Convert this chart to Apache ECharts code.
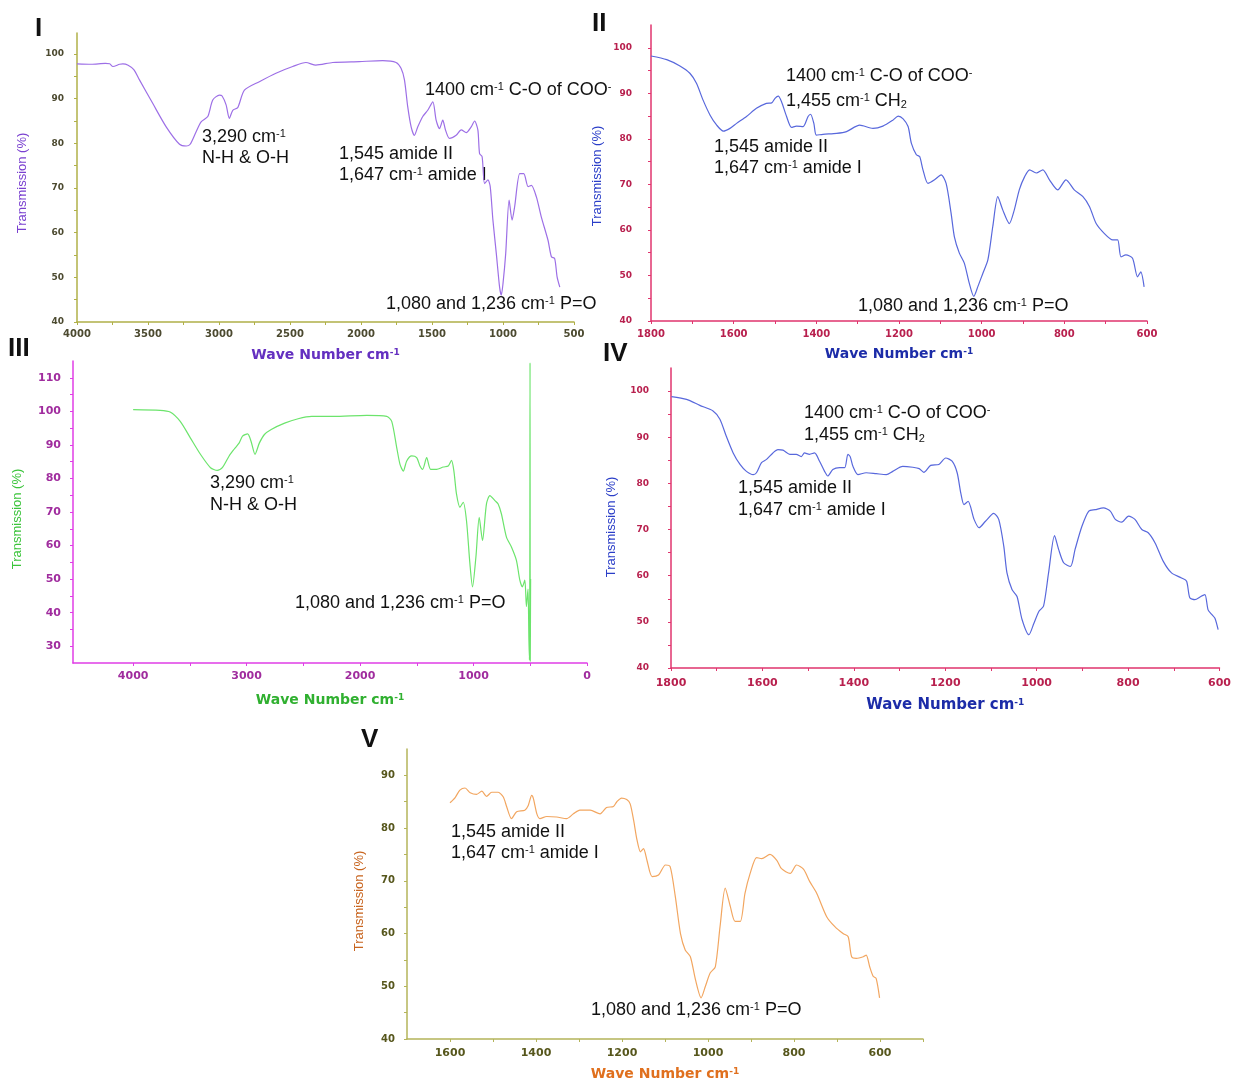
<!DOCTYPE html>
<html>
<head>
<meta charset="utf-8">
<title>FTIR spectra I-V</title>
<script src="https://cdn.jsdelivr.net/npm/echarts@6/dist/echarts.min.js"></script>
<style>
html, body { margin: 0; padding: 0; background: #fff; }
#chart { width: 1234px; height: 1083px; }
</style>
</head>
<body>
<div id="chart"></div>
<script>
// spectra: [wave number cm-1, transmission %]
var spectrumI = [
    [4000, 97.8], [3900, 97.7], [3800, 97.9], [3770, 97.8], [3747, 97.2], [3700, 97.7], [3677, 97.8],
    [3640, 97.5], [3600, 96.5], [3560, 94.2], [3466, 88.9], [3372, 83.7], [3278, 79.8], [3231, 79.4],
    [3203, 79.8], [3161, 82.6], [3126, 84.8], [3079, 86], [3044, 89.7], [2997, 90.8], [2978, 90.6],
    [2950, 88.6], [2927, 85.6], [2903, 87.4], [2868, 88], [2821, 91.9], [2716, 93.8], [2599, 95.7],
    [2481, 97.2], [2388, 98.1], [2318, 97.5], [2200, 98.1], [2012, 98.3], [1847, 98.5], [1753, 98.1],
    [1718, 96.8], [1694, 94.2], [1671, 88.2], [1647, 83.7], [1624, 81.8], [1600, 83.7], [1565, 86],
    [1530, 87.4], [1494, 89.3], [1471, 85.2], [1447, 83.3], [1424, 85.2], [1405, 83], [1377, 81.1],
    [1330, 81.8], [1294, 83], [1259, 82.4], [1224, 83.7], [1200, 85], [1177, 83], [1165, 77.7],
    [1147, 77], [1130, 71], [1106, 71.8], [1090, 70.3], [1071, 62.8], [1047, 55.3], [1024, 47.8],
    [1012, 46], [1000, 48.6], [981, 55.3], [957, 67.3], [936, 62.8], [918, 65.8], [882, 73.2],
    [854, 73.2], [823, 70.3], [800, 70.6], [765, 68], [730, 63.5], [683, 58.3], [659, 54.6],
    [636, 54.2], [619, 50.1], [600, 47.8]
];
var spectrumII = [
    [1800, 98.2], [1762, 97.4], [1730, 96], [1706, 94.4], [1690, 92.2], [1674, 88.5], [1657, 85.2],
    [1641, 83], [1625, 81.7], [1609, 82.3], [1593, 83.4], [1569, 84.9], [1545, 86.7], [1521, 87.8],
    [1508, 87.9], [1500, 88.9], [1492, 89.4], [1484, 88.1], [1472, 84.9], [1460, 82.5], [1448, 82.8],
    [1432, 82.7], [1420, 84.9], [1414, 85.4], [1406, 83.4], [1400, 80.8], [1384, 81], [1351, 81.2],
    [1327, 81.6], [1295, 83], [1263, 82.3], [1239, 82.8], [1215, 84.1], [1202, 85], [1190, 84.4],
    [1178, 82.7], [1170, 79], [1158, 76.5], [1150, 76.1], [1142, 73.2], [1130, 70.2], [1114, 71],
    [1098, 72.1], [1086, 70.2], [1074, 63.7], [1066, 58.5], [1054, 54.9], [1042, 52.7], [1030, 48.3],
    [1019, 45.4], [1009, 47.6], [997, 50.5], [985, 53.4], [973, 60.8], [961, 67.3], [949, 64.4],
    [933, 61.4], [921, 64.4], [909, 68.8], [896, 71.7], [884, 73.2], [868, 72.5], [852, 73.2],
    [836, 71], [816, 68.8], [796, 71], [776, 68.8], [755, 67.3], [739, 65.1], [723, 61.4],
    [703, 59.2], [683, 57.8], [671, 57.8], [663, 54.1], [651, 54.5], [635, 53.8], [623, 49.7],
    [615, 50.8], [607, 47.5]
];
var spectrumIII = [
    [4000, 100.5], [3763, 100.3], [3674, 99.8], [3585, 97], [3496, 92.1], [3407, 87.2], [3318, 83.2],
    [3258, 82.4], [3214, 83.2], [3154, 86.7], [3110, 88.7], [3065, 90.6], [3036, 92.6], [2991, 93.3],
    [2961, 91.1], [2926, 87.2], [2887, 90.6], [2843, 93.1], [2783, 94.6], [2665, 96.5], [2546, 97.8],
    [2427, 98.5], [2235, 98.5], [1941, 98.8], [1765, 98.5], [1721, 97], [1677, 89.2], [1648, 84.2],
    [1619, 82.2], [1589, 85.2], [1545, 86.7], [1501, 86.2], [1472, 83.7], [1449, 82.7], [1413, 86.2],
    [1378, 82.7], [1326, 82.7], [1267, 83.4], [1223, 83.7], [1194, 85.4], [1173, 82.2], [1150, 75.3],
    [1120, 71.4], [1091, 72.9], [1062, 67.4], [1032, 54.6], [1009, 47.7], [979, 56.6], [950, 68.4],
    [921, 61.5], [886, 72.4], [856, 74.9], [812, 73.4], [783, 72.4], [754, 69.4], [710, 62.5],
    [666, 59.6], [622, 55.6], [592, 49.7], [569, 47.7], [548, 49.7], [534, 41.8], [520, 47],
    [512, 32], [507, 26], [504, 52], [502, 114.5], [500, 25.5], [497, 50]
];
var spectrumIV = [
    [1799, 98.8], [1766, 98.2], [1737, 96.9], [1708, 95.7], [1693, 93.9], [1679, 90.2], [1664, 86.6],
    [1649, 84.1], [1635, 82.6], [1620, 81.9], [1613, 82.3], [1602, 84.5], [1591, 85.2], [1577, 86.6],
    [1566, 87.3], [1555, 87.2], [1540, 86.3], [1526, 86.3], [1515, 85.8], [1508, 86.6], [1497, 86.3],
    [1486, 86.6], [1475, 84.8], [1464, 82.6], [1457, 81.6], [1446, 83], [1431, 83.4], [1420, 83.4],
    [1413, 86.3], [1408, 85.8], [1402, 83.7], [1391, 81.9], [1373, 82.3], [1351, 82.1], [1329, 81.9],
    [1315, 82.6], [1293, 83.7], [1271, 83.5], [1257, 83.2], [1247, 82.4], [1232, 83.9], [1214, 84.1],
    [1199, 85.5], [1185, 84.8], [1174, 82.3], [1166, 77.9], [1159, 75.4], [1150, 76.1], [1137, 72.2],
    [1126, 70.4], [1112, 71.8], [1094, 73.5], [1083, 72.2], [1072, 66.4], [1065, 60.6], [1054, 57],
    [1043, 55.5], [1032, 50.5], [1017, 47.2], [1006, 49.7], [995, 52.3], [985, 53.4], [974, 60.6],
    [961, 68.7], [952, 65.7], [941, 62.8], [926, 62], [916, 65.7], [901, 70.7], [886, 74],
    [872, 74.3], [854, 74.7], [839, 74], [828, 72.2], [814, 71.6], [799, 72.9], [785, 72.2],
    [770, 70], [756, 69.3], [741, 67.1], [723, 63.1], [705, 60.6], [683, 59.5], [672, 58.8],
    [665, 55.2], [654, 54.8], [641, 55.5], [632, 55.9], [625, 52.6], [617, 51.6], [610, 50.8],
    [603, 48.3]
];
var spectrumV = [
    [1600, 84.8], [1588, 85.8], [1577, 87.2], [1565, 87.6], [1553, 86.7], [1538, 86.4], [1526, 87],
    [1515, 86], [1503, 86.8], [1488, 86.8], [1476, 85.9], [1468, 84], [1457, 81.8], [1445, 83.1],
    [1426, 83.4], [1418, 84.3], [1410, 86.2], [1406, 85.6], [1398, 82.7], [1391, 81.8], [1375, 82.2],
    [1352, 82.1], [1329, 81.8], [1313, 82.7], [1298, 83.4], [1274, 83.4], [1251, 82.7], [1236, 83.9],
    [1220, 84.1], [1212, 85], [1201, 85.7], [1189, 85.4], [1181, 84.6], [1173, 81.5], [1165, 77.7],
    [1157, 75.5], [1150, 76.1], [1142, 73.9], [1130, 70.8], [1115, 71.1], [1099, 73], [1088, 72.7],
    [1076, 67], [1064, 60], [1053, 56.9], [1041, 55.6], [1029, 51.2], [1016, 47.8], [1006, 50],
    [995, 52.5], [983, 53.7], [972, 61.3], [960, 68.6], [948, 65.1], [937, 62.3], [925, 62.3],
    [914, 67.6], [902, 71.4], [887, 74.4], [875, 74.2], [856, 75], [840, 73.9], [829, 72.3],
    [809, 71.4], [794, 73], [778, 72.2], [763, 69.8], [747, 67.6], [724, 63.2], [705, 61.3],
    [686, 60], [674, 59.4], [666, 55.6], [655, 55.3], [639, 55.6], [632, 55.9], [624, 53.7],
    [616, 51.9], [609, 51.5], [601, 47.8]
];

// tick labels and tick marks
var xLabelsI = [4000, 3500, 3000, 2500, 2000, 1500, 1000, 500];
var xTicksI = [4000, 3750, 3500, 3250, 3000, 2750, 2500, 2250, 2000, 1750, 1500, 1250, 1000, 750, 500];
var yLabelsI = [40, 50, 60, 70, 80, 90, 100];
var yTicksI = [40, 45, 50, 55, 60, 65, 70, 75, 80, 85, 90, 95, 100];
var xLabelsII = [1800, 1600, 1400, 1200, 1000, 800, 600];
var xTicksII = [1800, 1700, 1600, 1500, 1400, 1300, 1200, 1100, 1000, 900, 800, 700, 600];
var yLabelsII = [40, 50, 60, 70, 80, 90, 100];
var yTicksII = [40, 45, 50, 55, 60, 65, 70, 75, 80, 85, 90, 95, 100];
var xLabelsIII = [4000, 3000, 2000, 1000, 0];
var xTicksIII = [4000, 3500, 3000, 2500, 2000, 1500, 1000, 500, 0];
var yLabelsIII = [30, 40, 50, 60, 70, 80, 90, 100, 110];
var yTicksIII = [30, 35, 40, 45, 50, 55, 60, 65, 70, 75, 80, 85, 90, 95, 100, 105, 110];
var xLabelsV = [1600, 1400, 1200, 1000, 800, 600];
var xTicksV = [1600, 1500, 1400, 1300, 1200, 1100, 1000, 900, 800, 700, 600, 500];
var yLabelsV = [40, 50, 60, 70, 80, 90];
var yTicksV = [40, 45, 50, 55, 60, 65, 70, 75, 80, 85, 90];

var panels = [
    { data: spectrumI, line: '#9d6fe6', box: [77, 33, 497, 289], x: [500, 4000], y: [40, 104.7],
      xLabels: xLabelsI, xTicks: xTicksI, yLabels: yLabelsI, yTicks: yTicksI,
      axis: '#b0b048', label: '#4c4a30', xFont: 10, yFont: 9, xMargin: 7, yMargin: 13,
      xName: '#6430c0', xNameFont: 14, xNameGap: 26 },
    { data: spectrumII, line: '#5868dc', box: [651, 25, 496, 296], x: [600, 1800], y: [40, 105],
      xLabels: xLabelsII, xTicks: xTicksII, yLabels: yLabelsII, yTicks: yTicksII,
      axis: '#e0356e', label: '#b8204e', xFont: 10, yFont: 9, xMargin: 8, yMargin: 19,
      xName: '#1c2ca8', xNameFont: 14, xNameGap: 26 },
    { data: spectrumIII, line: '#6ce46c', box: [73, 361, 514, 302], x: [0, 4530], y: [25, 115],
      xLabels: xLabelsIII, xTicks: xTicksIII, yLabels: yLabelsIII, yTicks: yTicksIII,
      axis: '#e03ee6', label: '#a02c9e', xFont: 11, yFont: 11, xMargin: 8, yMargin: 12,
      xName: '#30b030', xNameFont: 14, xNameGap: 30 },
    { data: spectrumIV, line: '#5868dc', box: [671, 368, 550, 300], x: [600, 1800], y: [40, 105],
      xLabels: xLabelsII, xTicks: xTicksII, yLabels: yLabelsII, yTicks: yTicksII,
      axis: '#e0356e', label: '#b8204e', xFont: 11, yFont: 9, xMargin: 10, yMargin: 22,
      xName: '#1c2ca8', xNameFont: 15, xNameGap: 30 },
    { data: spectrumV, line: '#f2a660', box: [407, 749, 516, 290], x: [500, 1700], y: [40, 95],
      xLabels: xLabelsV, xTicks: xTicksV, yLabels: yLabelsV, yTicks: yTicksV,
      axis: '#b4b45a', label: '#56561c', xFont: 11, yFont: 10, xMargin: 9, yMargin: 12,
      xName: '#e0701e', xNameFont: 14, xNameGap: 28 }
];

// panel letters, y axis titles and peak notes
var panelTitles = [['I', 35, 29], ['II', 592, 24], ['III', 8, 349], ['IV', 603, 354], ['V', 361, 740]];
var yTitles = [[22, 183, '#7a40d0'], [597, 176, '#2a3ec8'], [17, 519, '#3cc43c'], [611, 527, '#2a3ec8'], [359, 901, '#c8641e']];
var notes = [
    ['3,290 cm{sup|-1}', 202, 137], ['N-H & O-H', 202, 158],
    ['1400 cm{sup|-1} C-O of COO{sup|-}', 425, 90], ['1,545 amide II', 339, 154],
    ['1,647 cm{sup|-1} amide I', 339, 175], ['1,080 and 1,236 cm{sup|-1} P=O', 386, 304],
    ['1400 cm{sup|-1} C-O of COO{sup|-}', 786, 76], ['1,455 cm{sup|-1} CH{sub|2}', 786, 101],
    ['1,545 amide II', 714, 147], ['1,647 cm{sup|-1} amide I', 714, 168],
    ['1,080 and 1,236 cm{sup|-1} P=O', 858, 306],
    ['3,290 cm{sup|-1}', 210, 483], ['N-H & O-H', 210, 505],
    ['1,080 and 1,236 cm{sup|-1} P=O', 295, 603],
    ['1400 cm{sup|-1} C-O of COO{sup|-}', 804, 413], ['1,455 cm{sup|-1} CH{sub|2}', 804, 435],
    ['1,545 amide II', 738, 488], ['1,647 cm{sup|-1} amide I', 738, 510],
    ['1,545 amide II', 451, 832], ['1,647 cm{sup|-1} amide I', 451, 853],
    ['1,080 and 1,236 cm{sup|-1} P=O', 591, 1010]
];

var noteRich = {
    sup: { fontSize: 11, fontFamily: 'Liberation Sans', fill: '#111', verticalAlign: 'top' },
    sub: { fontSize: 11, fontFamily: 'Liberation Sans', fill: '#111', verticalAlign: 'bottom' }
};

function plain(v) {
    return String(v);
}

var option = { animation: false, backgroundColor: '#fff', grid: [], xAxis: [], yAxis: [], series: [], graphic: [] };

panels.forEach(function (p, i) {
    option.grid.push({ left: p.box[0], top: p.box[1], width: p.box[2], height: p.box[3], containLabel: false });
    option.xAxis.push({
        gridIndex: i, type: 'value', inverse: true, min: p.x[0], max: p.x[1],
        axisLine: { show: true, onZero: false, lineStyle: { color: p.axis, width: 1.5 } },
        axisTick: { show: true, customValues: p.xTicks, length: 3, lineStyle: { color: p.axis } },
        axisLabel: { customValues: p.xLabels, formatter: plain, fontFamily: 'DejaVu Sans', fontWeight: 'bold',
            fontSize: p.xFont, color: p.label, margin: p.xMargin },
        splitLine: { show: false },
        name: 'Wave Number cm{sup|-1}', nameLocation: 'middle', nameGap: p.xNameGap,
        nameTextStyle: { color: p.xName, fontFamily: 'DejaVu Sans', fontWeight: 'bold', fontSize: p.xNameFont,
            rich: { sup: { color: p.xName, fontFamily: 'DejaVu Sans', fontWeight: 'bold', fontSize: 9, verticalAlign: 'top' } } }
    });
    option.yAxis.push({
        gridIndex: i, type: 'value', min: p.y[0], max: p.y[1],
        axisLine: { show: true, onZero: false, lineStyle: { color: p.axis, width: 1.5 } },
        axisTick: { show: true, customValues: p.yTicks, length: 3, lineStyle: { color: p.axis } },
        axisLabel: { customValues: p.yLabels, formatter: plain, fontFamily: 'DejaVu Sans', fontWeight: 'bold',
            fontSize: p.yFont, color: p.label, margin: p.yMargin },
        splitLine: { show: false }
    });
    option.series.push({
        type: 'line', xAxisIndex: i, yAxisIndex: i, data: p.data,
        showSymbol: false, smooth: 0.25, lineStyle: { color: p.line, width: 1.2 }
    });
});

panelTitles.forEach(function (t) {
    option.graphic.push({ type: 'text', x: t[1], y: t[2], style: {
        text: t[0], fontFamily: 'Liberation Sans', fontWeight: 'bold', fontSize: 26, fill: '#111',
        textAlign: 'left', textVerticalAlign: 'middle' } });
});
yTitles.forEach(function (t) {
    option.graphic.push({ type: 'text', x: t[0], y: t[1], rotation: Math.PI / 2, style: {
        text: 'Transmission (%)', fontFamily: 'Liberation Sans', fontSize: 13, fill: t[2],
        textAlign: 'center', textVerticalAlign: 'middle' } });
});
notes.forEach(function (n) {
    option.graphic.push({ type: 'text', x: n[1], y: n[2], style: {
        text: n[0], fontFamily: 'Liberation Sans', fontSize: 18, fill: '#111',
        textAlign: 'left', textVerticalAlign: 'middle', rich: noteRich } });
});

var myChart = echarts.init(document.getElementById('chart'));
myChart.setOption(option);
</script>
</body>
</html>
